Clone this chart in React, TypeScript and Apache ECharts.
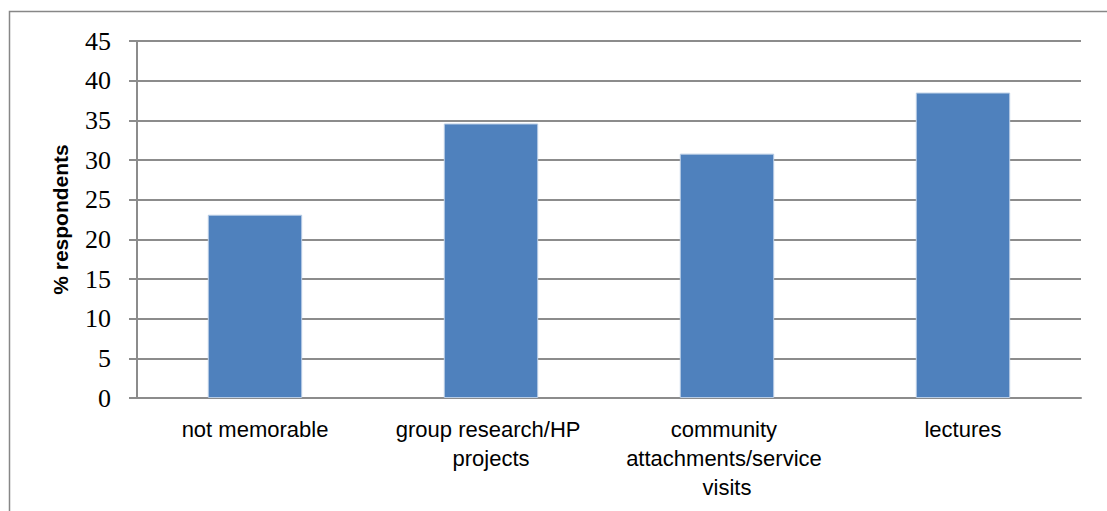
import React, { useEffect, useRef } from "react";
import * as echarts from "echarts";

const categories = [
  "not memorable",
  "group research/HP projects",
  "community attachments/service visits",
  "lectures",
];
const values = [23.1, 34.6, 30.8, 38.5];
const yAxisTitle = "% respondents";

export default function App() {
  const ref = useRef<HTMLDivElement>(null);
  useEffect(() => {
    document.body.style.margin = "0";
    const chart = echarts.init(ref.current!, null, { renderer: "svg" });
    chart.setOption({
      animation: false,
      backgroundColor: "#ffffff",
      graphic: [
        {
          type: "rect",
          shape: { x: 9.5, y: 11.5, width: 1200, height: 600 },
          style: { fill: "none", stroke: "#878787", lineWidth: 1.5 },
          silent: true,
        },
      ],
      grid: { left: 137, right: 26, top: 41, bottom: 113 },
      xAxis: {
        type: "category",
        data: categories,
        axisLine: { show: true, lineStyle: { color: "#8c8c8c", width: 2 } },
        axisTick: { show: false },
        axisLabel: {
          interval: 0,
          margin: 17,
          color: "#000",
          fontFamily: "Liberation Sans",
          fontSize: 22,
          lineHeight: 29,
          width: 205,
          overflow: "break",
        },
      },
      yAxis: {
        type: "value",
        min: 0,
        max: 45,
        interval: 5,
        name: yAxisTitle,
        nameLocation: "middle",
        nameGap: 66,
        nameTextStyle: {
          color: "#000",
          fontFamily: "Liberation Sans",
          fontWeight: "bold",
          fontSize: 21,
        },
        axisLine: { show: true, lineStyle: { color: "#8c8c8c", width: 2 } },
        axisTick: { show: true, length: 8, lineStyle: { color: "#8c8c8c", width: 2 } },
        axisLabel: {
          margin: 26,
          color: "#000",
          fontFamily: "Liberation Serif",
          fontSize: 26,
        },
        splitLine: { show: true, lineStyle: { color: "#8c8c8c", width: 2 } },
      },
      series: [
        {
          type: "bar",
          data: values,
          barWidth: "40%",
          itemStyle: { color: "#4F81BD", borderColor: "#B9CDE5", borderWidth: 1 },
        },
      ],
    });
    return () => chart.dispose();
  }, []);
  return <div ref={ref} style={{ width: 1107, height: 511 }} />;
}
